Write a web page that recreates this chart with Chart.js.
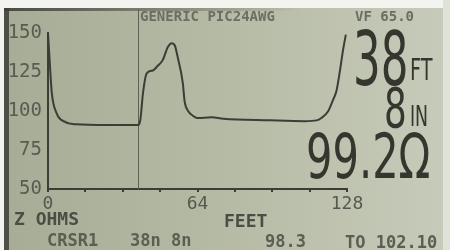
<!DOCTYPE html>
<html><head><meta charset="utf-8">
<script src="https://cdn.jsdelivr.net/npm/chart.js@4/dist/chart.umd.min.js"></script>
<style>html,body{margin:0;padding:0;background:#eeeeea;}canvas{display:block;}</style>
</head><body>
<canvas id="c" width="450" height="250"></canvas>
<script>
// Trace: distance (feet) vs impedance (ohms)
const feet = [0, 0.8, 1.6, 3.7, 7.3, 12, 25, 38.5, 39.5, 40.7, 42.2, 44.9, 47, 49.1, 51.3, 53, 54.3, 55.6, 57.7, 58.5, 60, 62, 64, 70, 75, 95, 110, 115, 117, 120, 122, 123.5, 125, 126.3, 127.5];
const ohms = [150, 130, 112, 98.5, 93, 91.5, 91, 91, 94, 112, 124, 126, 129, 132.6, 141, 143.5, 142, 134, 118, 106, 100, 97, 95.5, 96, 95, 94, 93.5, 94, 95.5, 100, 107, 113, 126, 139, 149];
const yTickValues = [50, 75, 100, 125, 150];
const xTickLabels = [0, 64, 128];
const cursorFeet = 38 + 8/12;
const headerLeft = "GENERIC PIC24AWG";
const headerRight = "VF 65.0";
const bigFeet = "38", bigInches = "8", bigOhms = "99.2Ω";
const unitFt = "FT", unitIn = "IN";
const yTitle = "Z OHMS", xTitle = "FEET";
const statusTexts = ["CRSR1", "38n 8n", "98.3", "TO 102.10"];

const INK = '#3a3e35';

const lcdPlugin = {
  id: 'lcd',
  beforeDraw(chart) {
    const c = chart.ctx;
    c.save();
    const g = c.createLinearGradient(0, 0, 450, 0);
    g.addColorStop(0, '#a6ac95');
    g.addColorStop(0.45, '#b4b9a3');
    g.addColorStop(1, '#c7cbba');
    c.fillStyle = g; c.fillRect(0, 0, 450, 250);
    // bezel edges
    c.fillStyle = '#f3f3ef'; c.fillRect(0, 0, 450, 8); c.fillRect(0, 0, 4, 250);
    c.fillStyle = '#dfe2d7'; c.fillRect(443, 0, 7, 250);
    c.fillStyle = '#4b4f45'; c.fillRect(4, 8, 5, 242);
    const tg = c.createLinearGradient(0, 0, 300, 0);
    tg.addColorStop(0, 'rgba(60,64,55,0.9)'); tg.addColorStop(1, 'rgba(60,64,55,0)');
    c.fillStyle = tg; c.fillRect(4, 8, 300, 3);
    c.restore();
  },
  beforeDatasetsDraw(chart) {
    const c = chart.ctx, xs = chart.scales.x;
    const px = Math.round(xs.getPixelForValue(cursorFeet)) + 0.5;
    c.save();
    c.strokeStyle = '#5d6254'; c.lineWidth = 1;
    c.beginPath(); c.moveTo(px, 9); c.lineTo(px, chart.chartArea.bottom); c.stroke();
    c.restore();
  },
  afterDraw(chart) {
    const c = chart.ctx;
    c.save();
    c.textBaseline = 'alphabetic';
    // header
    c.fillStyle = '#6b6e63';
    c.font = 'bold 14px "DejaVu Sans Mono"';
    c.fillText(headerLeft, 140, 21);
    c.fillText(headerRight, 355, 21);
    // big readouts (condensed)
    const big = (txt, x, y, size, sx) => {
      c.save(); c.translate(x, y); c.scale(sx, 1);
      c.font = size + 'px "DejaVu Sans"'; c.fillText(txt, 0, 0); c.restore();
    };
    c.fillStyle = '#35372f';
    big(bigFeet, 353, 85, 75, 0.58);
    big(unitFt, 410, 80, 31, 0.62);
    big(bigInches, 384, 127, 55, 0.65);
    big(unitIn, 410, 126, 28, 0.62);
    big(bigOhms, 306, 178, 63, 0.66);
    // axis titles and status line
    c.font = 'bold 18px "DejaVu Sans Mono"';
    c.fillStyle = '#4a4e44';
    c.fillText(yTitle, 14, 225);
    c.fillText(xTitle, 224, 227);
    c.fillStyle = '#5a5e53';
    c.font = 'bold 17px "DejaVu Sans Mono"';
    c.fillText(statusTexts[0], 47, 246);
    c.fillText(statusTexts[1], 130, 246);
    c.fillText(statusTexts[2], 265, 247);
    c.fillText(statusTexts[3], 345, 248);
    c.restore();
  }
};

new Chart(document.getElementById('c'), {
  type: 'line',
  data: { datasets: [{
    data: feet.map((f, i) => ({ x: f, y: ohms[i] })),
    borderColor: INK, borderWidth: 2, pointRadius: 0,
    cubicInterpolationMode: 'monotone', fill: false, clip: 4
  }]},
  options: {
    responsive: false, animation: false, devicePixelRatio: 1,
    layout: { padding: { left: 0, right: 103, top: 33, bottom: 31 } },
    plugins: { legend: { display: false }, tooltip: { enabled: false } },
    scales: {
      x: {
        type: 'linear', min: 0, max: 128,
        afterFit: s => { s.height = 30; },
        ticks: {
          stepSize: 16, autoSkip: false, maxRotation: 0, padding: 2,
          callback: v => xTickLabels.includes(v) ? String(v) : '',
          font: { family: 'DejaVu Sans Mono', size: 18 }, color: '#55594e'
        },
        grid: { drawOnChartArea: false, drawTicks: true, tickLength: 3, color: INK, lineWidth: 2 },
        border: { display: true, color: INK, width: 2 }
      },
      y: {
        min: 50, max: 150,
        afterFit: s => { s.width = 48; },
        afterBuildTicks: s => { s.ticks = yTickValues.map(v => ({ value: v })); },
        ticks: {
          padding: 6,
          font: { family: 'DejaVu Sans Mono', size: 19 }, color: '#585c51'
        },
        grid: { drawOnChartArea: false, drawTicks: false },
        border: { display: true, color: INK, width: 2 }
      }
    }
  },
  plugins: [lcdPlugin]
});
</script>
</body></html>
